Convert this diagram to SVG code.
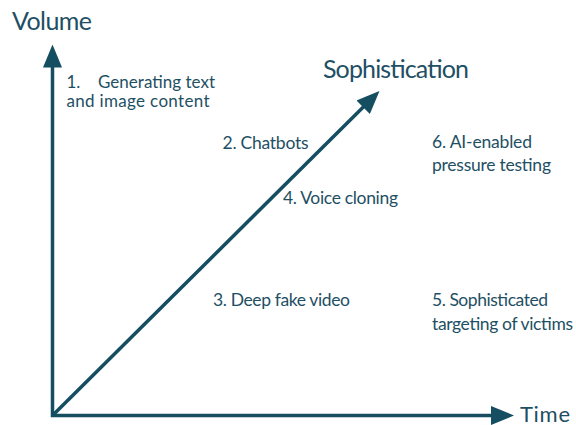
<svg xmlns="http://www.w3.org/2000/svg" width="576" height="425" viewBox="0 0 576 425">
<style>
.ax{fill:none;stroke:#154D61;stroke-width:3.5;stroke-linejoin:miter}
.t{font-family:Lato,"Liberation Sans",sans-serif;fill:#1E4F64}
.lbl{font-size:17.5px}
.big{font-size:25px}
</style>
<defs>
<marker id="ah" markerUnits="userSpaceOnUse" markerWidth="23" markerHeight="19" refX="8" refY="9.5" orient="auto-start-reverse" viewBox="0 0 23 19">
<path d="M0,0 L23,9.5 L0,19 z" fill="#154D61"/>
</marker>
</defs>
<rect width="576" height="425" fill="#FFFFFF"/>
<g id="connectors">
<path class="ax" d="M52.5,59.5 L52.5,415.5 L499,415.5" marker-start="url(#ah)" marker-end="url(#ah)"/>
<path class="ax" d="M52.5,415.5 L368.85,101.57" marker-end="url(#ah)"/>
</g>
<g id="axis-volume"><text class="t big" x="12" y="30" textLength="80">Volume</text></g>
<g id="axis-sophistication"><text class="t big" x="323" y="78" textLength="146">Sophistication</text></g>
<g id="axis-time"><text class="t" font-size="22" x="520" y="421.5" textLength="50">Time</text></g>
<g id="item1">
<text class="t" font-size="17" x="66.5" y="87.5">1.</text>
<text class="t" font-size="17" x="98" y="87.5" textLength="117">Generating text</text>
<text class="t" font-size="17" x="66.5" y="106.5" textLength="143">and image content</text>
</g>
<g id="item2"><text class="t lbl" x="222.5" y="149" textLength="86">2. Chatbots</text></g>
<g id="item4"><text class="t lbl" x="283" y="204" textLength="115">4. Voice cloning</text></g>
<g id="item6">
<text class="t lbl" x="432" y="148" textLength="100">6. AI-enabled</text>
<text class="t lbl" x="432" y="171" textLength="119">pressure testing</text>
</g>
<g id="item3"><text class="t lbl" x="213" y="306" textLength="137">3. Deep fake video</text></g>
<g id="item5">
<text class="t lbl" x="432" y="306" textLength="116">5. Sophisticated</text>
<text class="t lbl" x="432" y="330" textLength="141">targeting of victims</text>
</g>
</svg>
